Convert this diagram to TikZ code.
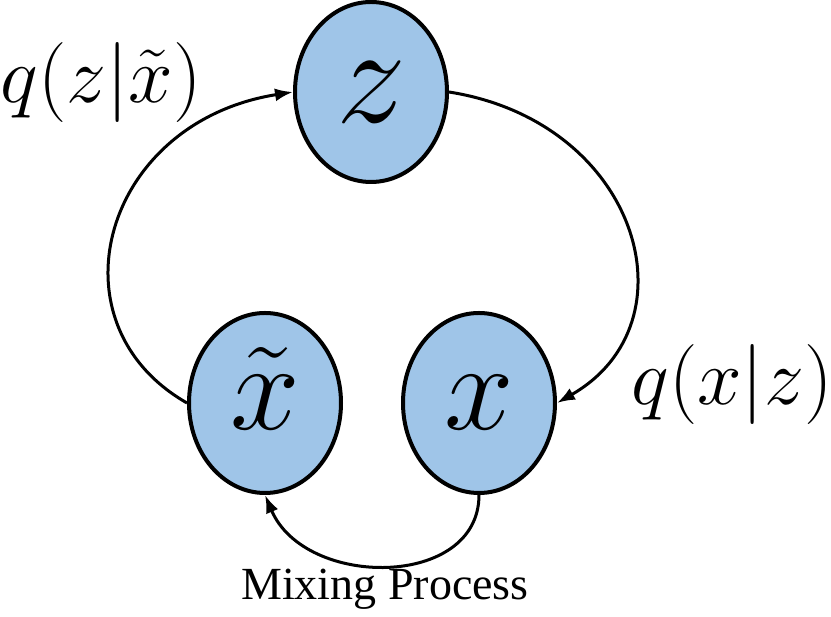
\RequirePackage{fix-cm}
\documentclass[tikz,border=0pt]{standalone}
\usepackage{amsmath,amssymb}
\usepackage{fontspec}
\newfontfamily\captionserif{Liberation Serif}
\usepackage{tikz}
\usetikzlibrary{shapes.geometric,arrows.meta,positioning}
\usepackage{xcolor}
\definecolor{varblue}{RGB}{159, 197, 232}

\begin{document}
\begin{tikzpicture}[
    x=1pt, y=1pt,
    var/.style={ellipse, draw=black, line width=4pt, fill=varblue,
                minimum width=152pt, minimum height=180pt, inner sep=0pt,
                font=\fontsize{125}{125}\selectfont},
    arr/.style={-{Latex[length=18pt, width=13pt]}, line width=3pt},
    lbl/.style={font=\fontsize{80}{80}\selectfont}
]
\useasboundingbox (0,0) rectangle (831,617);

% Variables
\node[var, font=\fontsize{140}{140}\selectfont] (z) at (371,525) {$z$};
\node[var, text height=54pt, text depth=0pt] (xt) at (265,214) {$\tilde{x}$};
\node[var] (x) at (479,214) {$x$};

% Arrows
\draw[arr] (xt.west) .. controls +(-140,80) and +(-190,-30) .. (z.west);
\draw[arr] (z.east) .. controls +(190,-30) and +(140,80) .. (x.east);
\draw[arr] (x.south) .. controls +(0,-94) and +(40,-94) .. (xt.south);

% Labels
\node[lbl] (enc) at (101,534) {$q(z|\tilde{x})$};
\node[lbl] (dec) at (732,232) {$q(x|z)$};
\node[font=\captionserif\fontsize{46}{46}\selectfont, anchor=base] (mix) at (385,17) {Mixing Process};
\end{tikzpicture}
\end{document}
